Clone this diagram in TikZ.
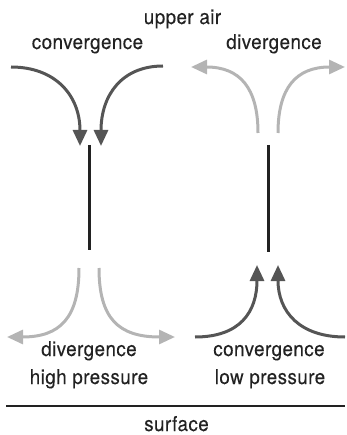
\documentclass[tikz,border=0pt]{standalone}
\usepackage{fontspec}
\setmainfont{TeX Gyre Heros}[FakeStretch=0.92,LetterSpace=2,FakeBold=0.15]
\usetikzlibrary{arrows.meta}
\definecolor{darkflow}{HTML}{555555}
\definecolor{lightflow}{HTML}{B4B4B4}
\definecolor{ink}{HTML}{222222}
\tikzset{
  inflow/.style={draw=darkflow, line width=3pt, -{Triangle[length=16pt,width=14pt]}},
  outflow/.style={draw=lightflow, line width=3pt, -{Triangle[length=16pt,width=14pt]}},
  column/.style={draw=ink, line width=3pt},
  caption/.style={font=\fontsize{20.5}{24}\selectfont, text=ink, inner sep=0pt, anchor=base},
}
\begin{document}
\begin{tikzpicture}[x=1pt,y=-1pt]
  \useasboundingbox (0,0) rectangle (346,435);

  % titres
  \node[caption] (upper) at (182.5,24) {upper air};
  \node[caption] (topconv) at (87.5,49) {convergence};
  \node[caption] (topdiv) at (274,49) {divergence};
  \node[caption] (lowdiv) at (89,356) {divergence};
  \node[caption] (high) at (89,384) {high pressure};
  \node[caption] (lowconv) at (269,356) {convergence};
  \node[caption] (low) at (270,384) {low pressure};
  \node[caption] (surf) at (176.5,431) {surface};

  % colonnes d'air
  \coordinate (hi-top) at (89,145);
  \coordinate (hi-bot) at (89,250);
  \coordinate (lo-top) at (268,145);
  \coordinate (lo-bot) at (268,252);
  \draw[column] (hi-top) -- (hi-bot);
  \draw[column] (lo-top) -- (lo-bot);

  % convergence en altitude (à gauche)
  \coordinate (ca0) at (11,67);   \coordinate (ca1) at (80,146);
  \coordinate (cb0) at (163,66);  \coordinate (cb1) at (101,146);
  \draw[inflow] (ca0) .. controls (55,67) and (80,95) .. (ca1);
  \draw[inflow] (cb0) .. controls (122,66) and (101,95) .. (cb1);

  % divergence en altitude (à droite)
  \coordinate (da0) at (258,133); \coordinate (da1) at (191,67);
  \coordinate (db0) at (278,133); \coordinate (db1) at (345,67);
  \draw[outflow] (da0) .. controls (258,88) and (240,67) .. (da1);
  \draw[outflow] (db0) .. controls (278,88) and (296,67) .. (db1);

  % divergence en surface (haute pression)
  \coordinate (ea0) at (79,268);  \coordinate (ea1) at (7,337);
  \coordinate (eb0) at (99,268);  \coordinate (eb1) at (175,337);
  \draw[outflow] (ea0) .. controls (79,318) and (60,337) .. (ea1);
  \draw[outflow] (eb0) .. controls (99,318) and (118,337) .. (eb1);

  % convergence en surface (basse pression)
  \coordinate (ga0) at (195,337); \coordinate (ga1) at (257,265);
  \coordinate (gb0) at (345,337); \coordinate (gb1) at (278,265);
  \draw[inflow] (ga0) .. controls (240,337) and (257,312) .. (ga1);
  \draw[inflow] (gb0) .. controls (300,337) and (278,312) .. (gb1);

  % sol
  \coordinate (ground-w) at (6,406);
  \coordinate (ground-e) at (345,406);
  \draw[draw=ink, line width=2pt] (ground-w) -- (ground-e);
\end{tikzpicture}
\end{document}
